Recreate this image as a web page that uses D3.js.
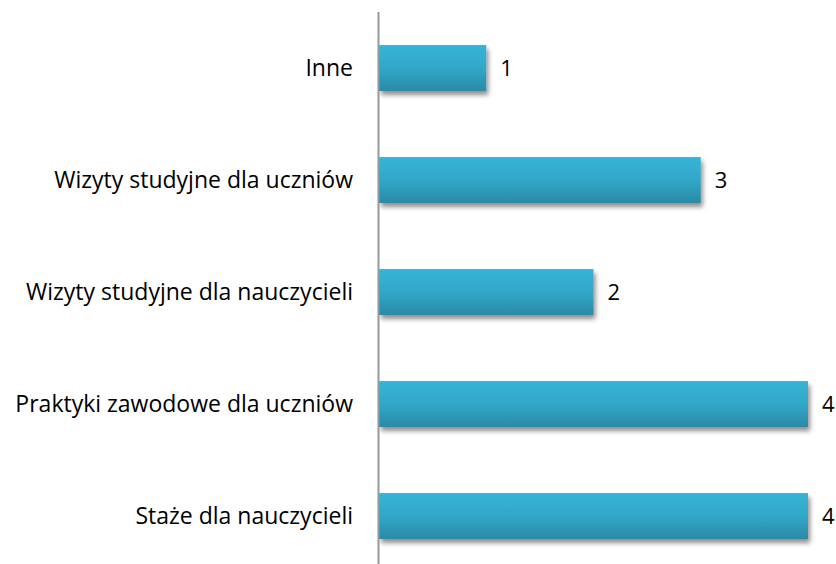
<!DOCTYPE html>
<html><head><meta charset="utf-8">
<script src="https://cdn.jsdelivr.net/npm/d3@7"></script>
<style>body{margin:0;background:#fff}svg{display:block}</style>
</head><body>
<svg id="c" width="836" height="564"></svg>
<script>
const categories = ["Inne","Wizyty studyjne dla uczniów","Wizyty studyjne dla nauczycieli","Praktyki zawodowe dla uczniów","Staże dla nauczycieli"];
const values = [1,3,2,4,4];

const svg = d3.select("#c");
const defs = svg.append("defs");
const g1 = defs.append("linearGradient").attr("id","bg").attr("x1",0).attr("y1",0).attr("x2",0).attr("y2",1);
g1.append("stop").attr("offset","0%").attr("stop-color","#37b4d7");
g1.append("stop").attr("offset","50%").attr("stop-color","#32a7c8");
g1.append("stop").attr("offset","100%").attr("stop-color","#288ba6");
const f = defs.append("filter").attr("id","sh").attr("x","-10%").attr("y","-20%").attr("width","130%").attr("height","160%");
f.append("feGaussianBlur").attr("in","SourceAlpha").attr("stdDeviation",2.5);
f.append("feOffset").attr("dx",2).attr("dy",4).attr("result","b");
f.append("feComponentTransfer").append("feFuncA").attr("type","linear").attr("slope",0.45);
const m = f.append("feMerge"); m.append("feMergeNode"); m.append("feMergeNode").attr("in","SourceGraphic");

const x0 = 379;
const x = d3.scaleLinear().domain([0,4]).range([x0, 808]);
const y = d3.scaleBand().domain(categories).range([12,572]).paddingInner(0.59).paddingOuter(0.295);

svg.selectAll("rect.bar").data(values).join("rect").attr("class","bar")
  .attr("x",x(0)).attr("y",(d,i)=>y(categories[i])).attr("width",d=>x(d)-x(0)).attr("height",y.bandwidth())
  .attr("fill","url(#bg)").attr("filter","url(#sh)");

svg.append("line").attr("x1",x0-0.5).attr("x2",x0-0.5).attr("y1",12).attr("y2",572).attr("stroke","#979797").attr("stroke-width",2);

const font = "'Open Sans', sans-serif";
svg.selectAll("text.cat").data(categories).join("text").attr("class","cat")
  .attr("x",353).attr("y",d=>y(d)+y.bandwidth()/2).attr("dy","0.35em").attr("text-anchor","end")
  .attr("font-family",font).attr("font-size",23).attr("fill","#000").text(d=>d);

svg.selectAll("text.val").data(values).join("text").attr("class","val")
  .attr("x",d=>x(d)+14).attr("y",(d,i)=>y(categories[i])+y.bandwidth()/2).attr("dy","0.35em")
  .attr("font-family",font).attr("font-size",22).attr("fill","#000").text(d=>d);
</script>
</body></html>
